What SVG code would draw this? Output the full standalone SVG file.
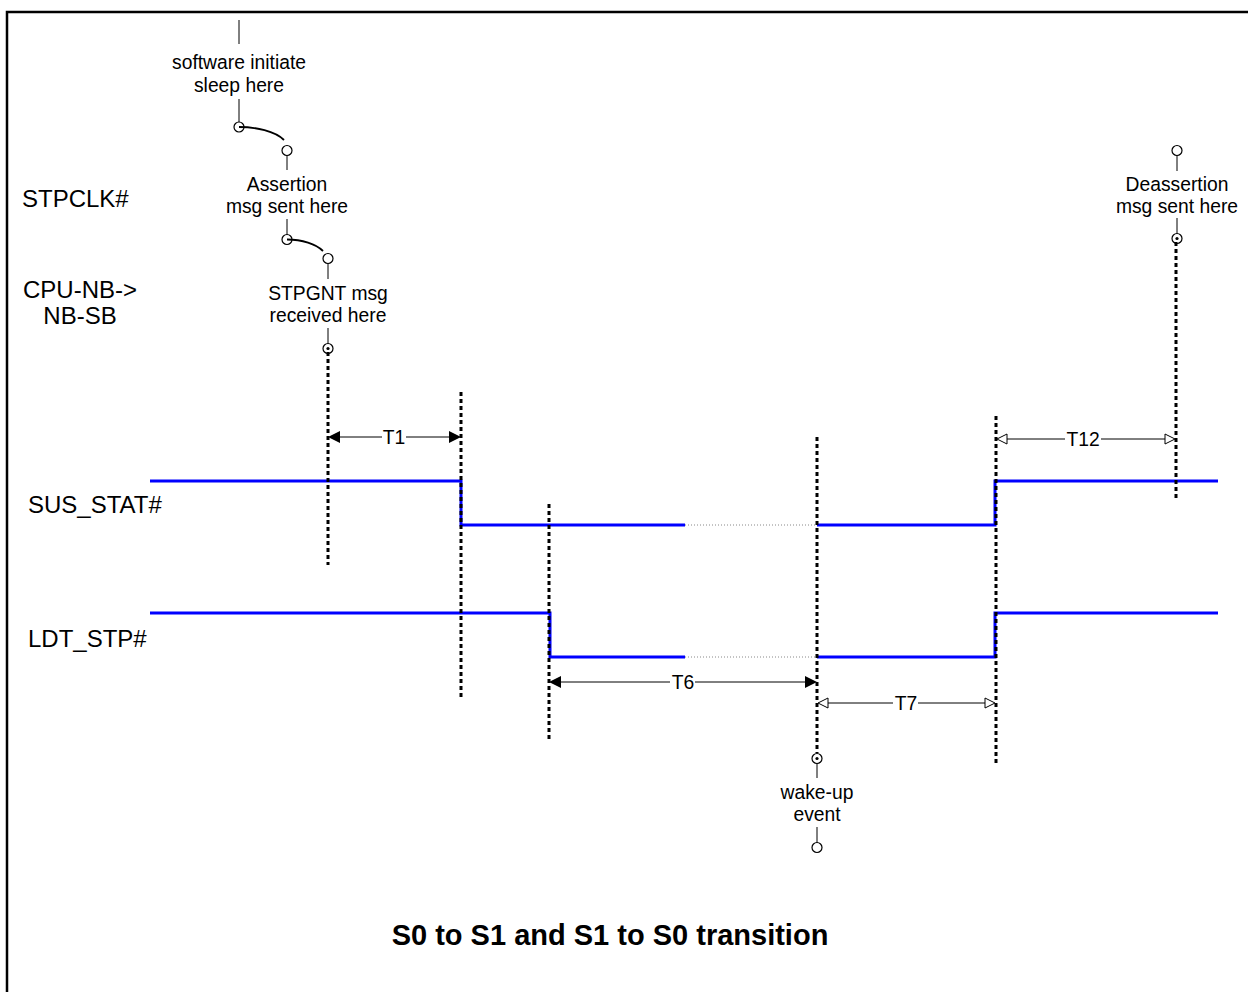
<svg xmlns="http://www.w3.org/2000/svg" width="1248" height="992" viewBox="0 0 1248 992">
<style>
text{font-family:"Liberation Sans",Arial,sans-serif;fill:#000}
.ann{font-size:19.3px;text-anchor:middle}
.lbl{font-size:24px}
.title{font-size:29px;font-weight:bold;text-anchor:middle}
.thin{stroke:#000;stroke-width:1;fill:none}
.curve{stroke:#000;stroke-width:1.8;fill:none}
.pin{stroke:#000;stroke-width:1.2;fill:#fff}
.dash{stroke:#000;stroke-width:3;stroke-dasharray:4 3;fill:none}
.sig{stroke:#0000ff;stroke-width:3;fill:none}
.gap{stroke:#888;stroke-width:1;stroke-dasharray:1 2;fill:none}
.fh{fill:#000;stroke:none}
.hh{fill:#fff;stroke:#000;stroke-width:1}
</style>
<rect x="7" y="12" width="1300" height="1100" fill="#fff" stroke="#000" stroke-width="2.5"/>

<g id="signal-labels">
<text class="lbl" x="22" y="207">STPCLK#</text>
<text class="lbl" x="80" y="298" text-anchor="middle">CPU-NB-&gt;</text>
<text class="lbl" x="80" y="324" text-anchor="middle">NB-SB</text>
<text class="lbl" x="28" y="513">SUS_STAT#</text>
<text class="lbl" x="28" y="647">LDT_STP#</text>
</g>

<g id="sus_stat">
<polyline class="sig" points="150,481 461,481 461,525 685,525"/>
<line class="gap" x1="685" y1="525" x2="817" y2="525"/>
<polyline class="sig" points="817,525 995,525 995,481 1218,481"/>
</g>

<g id="ldt_stp">
<polyline class="sig" points="150,613 550,613 550,657 685,657"/>
<line class="gap" x1="685" y1="657" x2="817" y2="657"/>
<polyline class="sig" points="817,657 995,657 995,613 1218,613"/>
</g>

<g id="software-initiate">
<line class="thin" x1="239" y1="20" x2="239" y2="44"/>
<text class="ann" x="239" y="69">software initiate</text>
<text class="ann" x="239" y="92">sleep here</text>
<line class="thin" x1="239" y1="99" x2="239" y2="122"/>
<circle class="pin" cx="239" cy="127" r="5"/>
</g>

<g id="assertion">
<circle class="pin" cx="287" cy="150.5" r="5"/>
<line class="thin" x1="287" y1="155.5" x2="287" y2="170"/>
<text class="ann" x="287" y="191">Assertion</text>
<text class="ann" x="287" y="213">msg sent here</text>
<line class="thin" x1="287" y1="219" x2="287" y2="234.5"/>
<circle class="pin" cx="287" cy="239.5" r="5"/>
</g>

<g id="stpgnt">
<circle class="pin" cx="328" cy="258.5" r="5"/>
<line class="thin" x1="328" y1="263.5" x2="328" y2="279"/>
<text class="ann" x="328" y="300">STPGNT msg</text>
<text class="ann" x="328" y="322">received here</text>
<line class="thin" x1="328" y1="328" x2="328" y2="343.5"/>
<circle class="pin" cx="328" cy="348.5" r="5"/>
<circle cx="328" cy="348.5" r="1.6" fill="#000"/>
</g>

<g id="deassertion">
<circle class="pin" cx="1177" cy="150.5" r="5"/>
<line class="thin" x1="1177" y1="155.5" x2="1177" y2="171"/>
<text class="ann" x="1177" y="191">Deassertion</text>
<text class="ann" x="1177" y="213">msg sent here</text>
<line class="thin" x1="1177" y1="218" x2="1177" y2="233.5"/>
<circle class="pin" cx="1177" cy="238.5" r="5"/>
<circle cx="1177" cy="238.5" r="1.6" fill="#000"/>
</g>

<g id="wake-up">
<circle class="pin" cx="817" cy="758.5" r="5"/>
<circle cx="817" cy="758.5" r="1.6" fill="#000"/>
<line class="thin" x1="817" y1="763.5" x2="817" y2="778"/>
<text class="ann" x="817" y="799">wake-up</text>
<text class="ann" x="817" y="821">event</text>
<line class="thin" x1="817" y1="827" x2="817" y2="842.5"/>
<circle class="pin" cx="817" cy="847.5" r="5"/>
</g>

<g id="connectors">
<path class="curve" d="M239,127 C256,127 275,131 284,140"/>
<path class="curve" d="M287,239.5 C302,239.5 316,244 323,251"/>
<line class="dash" x1="328" y1="352" x2="328" y2="565"/>
<line class="dash" x1="461" y1="392" x2="461" y2="700"/>
<line class="dash" x1="549" y1="504" x2="549" y2="740"/>
<line class="dash" x1="817" y1="437" x2="817" y2="753"/>
<line class="dash" x1="996" y1="416" x2="996" y2="766"/>
<line class="dash" x1="1176" y1="242" x2="1176" y2="498"/>
</g>

<g id="T1">
<line class="thin" x1="334" y1="437" x2="382" y2="437"/>
<line class="thin" x1="406" y1="437" x2="455" y2="437"/>
<polygon class="fh" points="328,437 340,431 340,443"/>
<polygon class="fh" points="461,437 449,431 449,443"/>
<text class="ann" x="394" y="444">T1</text>
</g>

<g id="T6">
<line class="thin" x1="555" y1="682" x2="670" y2="682"/>
<line class="thin" x1="695" y1="682" x2="811" y2="682"/>
<polygon class="fh" points="549,682 561,676 561,688"/>
<polygon class="fh" points="817,682 805,676 805,688"/>
<text class="ann" x="683" y="689">T6</text>
</g>

<g id="T7">
<line class="thin" x1="827" y1="703" x2="893" y2="703"/>
<line class="thin" x1="918" y1="703" x2="986" y2="703"/>
<polygon class="hh" points="818,703 828,698 828,708"/>
<polygon class="hh" points="995,703 985,698 985,708"/>
<text class="ann" x="906" y="710">T7</text>
</g>

<g id="T12">
<line class="thin" x1="1007" y1="439" x2="1065" y2="439"/>
<line class="thin" x1="1101" y1="439" x2="1166" y2="439"/>
<polygon class="hh" points="997,439 1007,434 1007,444"/>
<polygon class="hh" points="1175,439 1165,434 1165,444"/>
<text class="ann" x="1083" y="446">T12</text>
</g>

<g id="title">
<text class="title" x="610" y="945">S0 to S1 and S1 to S0 transition</text>
</g>
</svg>
